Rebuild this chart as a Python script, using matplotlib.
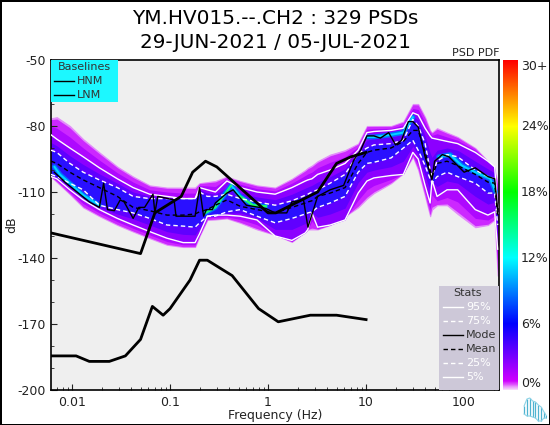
import matplotlib
matplotlib.use("Agg")
import matplotlib.pyplot as plt
from matplotlib.colors import LinearSegmentedColormap
from matplotlib.patches import Rectangle
from matplotlib.ticker import LogLocator, NullFormatter
import numpy as np

# values, dB against frequency in Hz
freq = [0.0061, 0.0070, 0.0095, 0.013, 0.019, 0.029, 0.042, 0.062, 0.093, 0.136, 0.18, 0.2, 0.24, 0.29,
        0.38, 0.52, 0.77, 1.18, 1.75, 2.4, 2.55, 2.8, 3.2, 4.3, 6.1, 8.3, 10.2, 12, 18, 24, 30, 34, 40, 45,
        47, 53, 67, 86, 130, 175, 205, 220]
env_top = [-76.5, -76, -80, -86, -92, -98.5, -103, -107, -108, -108, -108, -106, -105.5, -105,
           -103, -105, -107, -108, -104, -100, -99, -98, -96, -93, -91, -88, -80, -80, -80, -78, -70, -70, -76, -82,
           -83, -81, -83, -85, -90, -96, -100, -106]
p95 = [-84, -86, -90, -94, -99, -104, -108, -111, -112, -113, -113, -108, -109, -110,
       -105, -108, -110, -111, -108, -105, -104.5, -104, -102, -100, -97, -91, -83, -82.5, -82, -81, -74, -75, -81, -84.5,
       -85.5, -86, -87, -88, -92, -96, -98.6, -117]
p75 = [-91, -92, -97, -101, -104.5, -108, -112, -113, -113, -113, -113, -110, -112, -112,
       -111, -113, -114.5, -116, -114, -111.5, -111, -110, -109, -106, -102, -92.5, -90, -88.6, -88, -86.5, -77, -80, -88, -100,
       -103, -96, -93, -94, -100, -103, -104, -120]
mean = [-96, -97, -101, -104.5, -108, -112, -117, -118.5, -120.5, -120.5, -120, -119, -118, -116,
        -113.6, -116.5, -118, -119.5, -117, -115, -114.5, -114, -112, -110.5, -108, -97, -92, -91, -90, -87, -82, -82, -92, -100,
        -103, -97, -96, -98, -102, -105.5, -106, -121]
p25 = [-102, -103, -106, -109, -116, -118, -119.5, -122, -125, -125.5, -126, -124, -121, -121,
       -119, -118, -121, -124, -122, -120, -119.5, -119, -117, -115, -112, -101, -97, -96.5, -94.5, -90, -86.5, -91, -98, -104,
       -106, -103, -101, -103, -106, -110.5, -110.5, -125]
p5 = [-103, -104, -109, -113.6, -118, -122, -125, -128, -131, -133, -133, -129, -121, -120.5,
      -120.5, -121, -122.7, -130, -132, -128.6, -127, -119.5, -126, -125, -122.7, -110.5, -105, -103.6, -102.5, -102, -92, -95, -107, -115,
      -104.5, -112, -109, -109, -118, -120.5, -119, -136]
env_bot = [-103, -105.5, -111, -117, -121, -125, -128, -131, -134, -135, -135, -130, -122.7, -122.5,
           -122, -124, -127, -129.5, -132.7, -128, -127, -127, -127, -125, -121, -117, -113, -110.5, -106, -101.5, -94, -100, -112, -121,
           -118, -116, -116, -120, -126, -125, -122.7, -148]

mode_f = [0.0066, 0.0087, 0.015, 0.019, 0.021, 0.023, 0.027, 0.031, 0.034, 0.042, 0.048, 0.055, 0.067, 0.07, 0.075,
          0.11, 0.115, 0.18, 0.2, 0.22, 0.235, 0.27, 0.29, 0.38, 0.44, 0.6, 0.95, 1.18, 1.55, 1.75, 2.3, 2.55, 3.2,
          4.3, 5.9, 7.5, 8.8, 10.2, 12, 14, 17, 20, 23, 27, 30, 34, 40, 47, 50, 60, 70, 100, 130, 175, 205, 220]
mode_db = [-101, -106, -114.5, -117, -106, -118, -118.5, -113.6, -114.5, -122, -117, -117, -111, -119.5, -112,
           -113.6, -121, -121, -108, -121, -118, -118, -115, -110.5, -109, -116, -117.5, -119.5, -119.5, -114.5, -113.6, -126, -112,
           -109, -107, -95.5, -91, -84.5, -84.5, -85.5, -83, -88.6, -86.5, -78, -78, -80.5, -94, -104.5, -96, -93, -94, -101, -99, -103, -104, -118]

hnm_f = [0.0061, 0.05, 0.07, 0.13, 0.17, 0.23, 0.3, 1.0, 1.2, 3.2, 5.0, 7.0, 10]
hnm_db = [-128.6, -138, -119.5, -112, -101, -96, -98.6, -119.5, -119.5, -110, -97, -94, -92]
lnm_f = [0.0061, 0.011, 0.015, 0.024, 0.035, 0.05, 0.066, 0.085, 0.1, 0.16, 0.2, 0.24, 0.43, 0.8, 1.27, 2.7, 5, 10]
lnm_db = [-184.5, -184.5, -187, -187, -184.5, -177, -162, -166, -163, -150, -141, -141, -148, -163, -169, -166, -166, -168]

# cyan / green bands where the density peaks
ridge_low_f = [0.0066, 0.0075, 0.013, 0.019]
ridge_low_db = [-98.5, -102, -111.4, -116]
ridge_mid_f = [0.23, 0.29, 0.42, 0.52, 0.7, 0.95]
ridge_mid_db = [-119.5, -117, -107, -112, -116, -116.5]
ridge_up_f = [10.2, 12, 18, 24, 30]
ridge_up_db = [-85, -85, -84, -83, -76]
ridge_hi_f = [55, 72, 95, 130, 185, 210]
ridge_hi_db = [-94, -93, -98, -101, -104, -110]

cbar_pos = [0, 0.025, 0.2, 0.4, 0.6, 0.8, 1]
cbar_col = ["#f6d8fb", "#d000ff", "#0000ff", "#00ffff", "#00ff00", "#ffff00", "#ff0000"]
cbar_ticks = [0, 6, 12, 18, 24, 30]
cbar_labels = ["0%", "6%", "12%", "18%", "24%", "30+"]

baseline_labels = ["HNM", "LNM"]
stat_labels = ["95%", "75%", "Mode", "Mean", "25%", "5%"]

logo_x = [0, 3, 6, 9, 12, 15, 18, 21, 23]
logo_top = [8, 1, 0, 3, 4, 7, 9, 14, 17]
logo_bot = [16, 18, 18, 19, 20, 23, 23, 20, 20]

plt.rcParams["font.family"] = "DejaVu Sans"
plt.rcParams["font.size"] = 9
plt.rcParams["axes.unicode_minus"] = False

DASH = (0, (3.2, 2.2))

fig = plt.figure(figsize=(5.5, 4.25), dpi=100, facecolor="white", edgecolor="black", linewidth=2)
ax = fig.add_axes([51 / 550, 35 / 425, 448 / 550, 330 / 425], facecolor="#efefef")

top, up, hi, lo, dn, bot = [np.array(c) for c in (env_top, p95, p75, p25, p5, env_bot)]
# fade from the outer edge of the cloud to its centre
ax.fill_between(freq, top, bot, color="#e38cfb", lw=0.8, zorder=1)
ax.fill_between(freq, top - (top - up) * 0.08, bot + (dn - bot) * 0.08, color="#cc28ff", lw=0, zorder=1.05)
ax.fill_between(freq, top - (top - up) * 0.5, bot + (dn - bot) * 0.5, color="#ae08ff", lw=0, zorder=1.1)
ax.fill_between(freq, up, dn, color="#8c00ff", lw=0, zorder=1.2)
ax.fill_between(freq, up - (up - hi) * 0.5, dn + (lo - dn) * 0.5, color="#6000ff", lw=0, zorder=1.25)
ax.fill_between(freq, hi, lo, color="#2a10ff", lw=0, zorder=1.3)

for rf, rd in [(ridge_low_f, ridge_low_db), (ridge_mid_f, ridge_mid_db), (ridge_up_f, ridge_up_db), (ridge_hi_f, ridge_hi_db)]:
    ax.plot(rf, rd, color="#0070ff", lw=3.5, zorder=1.4, solid_capstyle="round")
    ax.plot(rf, rd, color="#00d8ff", lw=1.4, zorder=1.5, solid_capstyle="round")
ax.plot(ridge_mid_f[:3], ridge_mid_db[:3], color="#20ff60", lw=1.2, zorder=1.6)
ax.plot(ridge_mid_f[3:], ridge_mid_db[3:], color="#20ff60", lw=1.6, zorder=1.6)

ax.plot(freq, p95, color="white", lw=1, zorder=3)
ax.plot(freq, p75, color="white", lw=1, ls=DASH, zorder=3)
ax.plot(freq, p25, color="white", lw=1, ls=DASH, zorder=3)
ax.plot(freq, p5, color="white", lw=1, zorder=3)
ax.plot(mode_f, mode_db, color="black", lw=1, zorder=4)
ax.plot(freq, mean, color="black", lw=1, ls=DASH, zorder=4)
ax.plot(hnm_f, hnm_db, color="black", lw=2, zorder=5)
ax.plot(lnm_f, lnm_db, color="black", lw=2, zorder=5)

ax.set_xscale("log")
ax.set_xlim(0.0061, 227)
ax.set_ylim(-200, -50)
ax.set_xticks([0.01, 0.1, 1, 10, 100], ["0.01", "0.1", "1", "10", "100"])
ax.xaxis.set_minor_locator(LogLocator(base=10, subs=range(2, 10), numticks=12))
ax.xaxis.set_minor_formatter(NullFormatter())
ax.set_yticks([-200, -170, -140, -110, -80, -50])
ax.set_yticks(range(-190, -50, 10), minor=True)
ax.tick_params(which="both", direction="in", labelsize=9, colors="#222222", pad=4)
ax.tick_params(which="major", length=4.5)
ax.tick_params(which="minor", length=2.5)
ax.set_xlabel("Frequency (Hz)", fontsize=9, labelpad=0, color="#222222")
ax.set_ylabel("dB", fontsize=9, color="#222222")
ax.yaxis.set_label_coords(-33 / 448, 0.5)
for s in ax.spines.values():
    s.set_linewidth(1.2)


def px(x, y):
    return x / 550, 1 - y / 425


def legend_box(x0, y0, x1, y1, color, title, title_x, labels, rows_y, handle_x, text_x, styles):
    fig.add_artist(Rectangle(px(x0, y1), (x1 - x0) / 550, (y1 - y0) / 425, transform=fig.transFigure,
                             facecolor=color, edgecolor="none", zorder=6))
    fig.text(*px(title_x, y0 + 7.5), title, ha="center", va="center", fontsize=8, color="#333333", zorder=8)
    for label, y, (col, ls) in zip(labels, rows_y, styles):
        xs, ys = zip(px(handle_x[0], y), px(handle_x[1], y))
        fig.add_artist(plt.Line2D(xs, ys, color=col, lw=1, ls=ls, transform=fig.transFigure, zorder=7))
        fig.text(*px(text_x, y), label, ha="left", va="center", fontsize=8,
                 color="white" if col == "white" else "#333333", zorder=8)


legend_box(51, 60, 118, 102, "#1cf8ff", "Baselines", 84, baseline_labels, [81, 95], (54, 74), 77,
           [("black", "-"), ("black", "-")])
legend_box(439, 286, 499, 390, "#cdc8d8", "Stats", 468, stat_labels, [307, 321, 335, 349, 363, 377], (443, 463), 466,
           [("white", "-"), ("white", DASH), ("black", "-"), ("black", DASH), ("white", DASH), ("white", "-")])

cax = fig.add_axes([503 / 550, 35 / 425, 15 / 550, 330 / 425])
cmap = LinearSegmentedColormap.from_list("pqlx", list(zip(cbar_pos, cbar_col)))
cax.imshow(np.linspace(1, 0, 256).reshape(-1, 1), cmap=cmap, aspect="auto", extent=[0, 1, 0, 30])
cax.set_xticks([])
cax.yaxis.tick_right()
cax.set_yticks(cbar_ticks, cbar_labels)
cax.tick_params(length=0, labelsize=9, colors="#222222", pad=2)
for lab, va in zip(cax.get_yticklabels(), ["bottom", "center", "center", "center", "center", "top"]):
    lab.set_verticalalignment(va)
for s in cax.spines.values():
    s.set_visible(False)

fig.text(0.5, 1 - 19 / 425, "YM.HV015.--.CH2 : 329 PSDs", ha="center", va="center", fontsize=14.4, color="black")
fig.text(0.5, 1 - 42 / 425, "29-JUN-2021 / 05-JUL-2021", ha="center", va="center", fontsize=14.4, color="black")
fig.text(500 / 550, 1 - 53 / 425, "PSD PDF", ha="right", va="center", fontsize=8, color="#222222")

lax = fig.add_axes([523 / 550, 3 / 425, 24 / 550, 25 / 425])
lax.axis("off")
lax.vlines(logo_x, logo_top, logo_bot, color="#4fb3d0", lw=0.9)
lax.plot(logo_x, logo_top, color="#8fd3e6", lw=0.8)
lax.plot(logo_x, logo_bot, color="#8fd3e6", lw=0.8)
lax.set_ylim(24, -1)

fig.savefig("out.png", dpi=100)
